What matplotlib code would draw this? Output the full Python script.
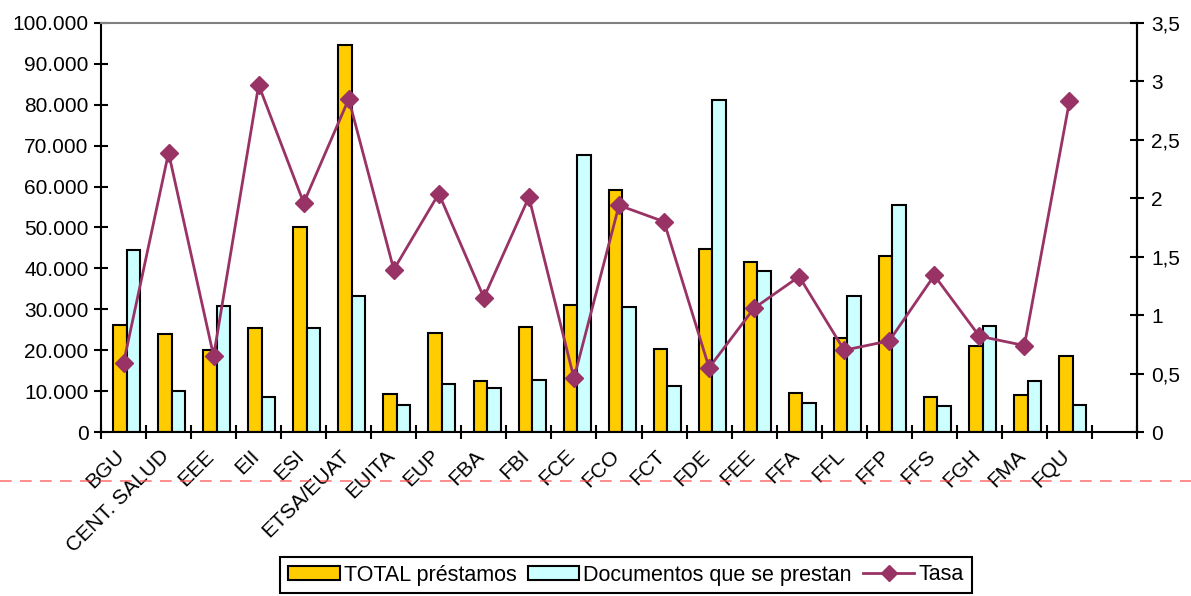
import matplotlib
matplotlib.use("Agg")
import matplotlib.pyplot as plt
import numpy as np
from matplotlib.lines import Line2D
from matplotlib.patches import Patch
from matplotlib.ticker import FuncFormatter

plt.rcParams["font.family"] = ["Liberation Sans", "DejaVu Sans"]

centros = ["BGU", "CENT. SALUD", "EEE", "EII", "ESI", "ETSA/EUAT", "EUITA", "EUP",
           "FBA", "FBI", "FCE", "FCO", "FCT", "FDE", "FEE", "FFA", "FFL", "FFP",
           "FFS", "FGH", "FMA", "FQU"]
total_prestamos = [26200, 24000, 20000, 25400, 50100, 94600, 9300, 24200, 12500,
                   25600, 31000, 59200, 20300, 44800, 41600, 9500, 23000, 43000,
                   8600, 21000, 9000, 18600]
documentos = [44500, 10000, 30800, 8500, 25400, 33200, 6600, 11700, 10800, 12700,
              67700, 30600, 11200, 81200, 39300, 7100, 33300, 55500, 6400, 25900,
              12500, 6600]
tasa = [0.59, 2.39, 0.65, 2.97, 1.96, 2.85, 1.39, 2.04, 1.15, 2.01, 0.46, 1.94,
        1.80, 0.55, 1.06, 1.33, 0.70, 0.78, 1.34, 0.82, 0.74, 2.83]

YELLOW = "#FFCC00"
CYAN = "#CCFFFF"
PLUM = "#993366"
FS = 15

fig = plt.figure(figsize=(11.91, 5.96), dpi=100)
ax = fig.add_axes([101 / 1191, 164 / 596, 1036 / 1191, 409 / 596])
x = np.arange(len(centros))
w = 0.3
ax.bar(x - w / 2 + 0.07, total_prestamos, w, color=YELLOW, edgecolor="black", lw=1.5, zorder=2)
ax.bar(x + w / 2 + 0.07, documentos, w, color=CYAN, edgecolor="black", lw=1.5, zorder=2)
ax.set_xlim(-0.5, len(centros) + 0.5)
ax.set_ylim(0, 100000)
ax.set_yticks(np.arange(0, 100001, 10000))
ax.yaxis.set_major_formatter(FuncFormatter(lambda v, p: f"{int(v):,}".replace(",", ".")))
ax.set_xticks(np.arange(-0.5, len(centros) + 0.6, 1))
ax.set_xticklabels([])
ax.tick_params(axis="both", direction="inout", length=10, width=1.5, labelsize=FS, pad=4)
for i, name in enumerate(centros):
    ax.text(i - 0.2, -3500, name, rotation=45, ha="right", va="top",
            rotation_mode="anchor", fontsize=FS)
for s in ("left", "bottom", "right"):
    ax.spines[s].set_linewidth(1.5)
ax.spines["top"].set_color("#808080")
ax.spines["top"].set_linewidth(1.5)

ax2 = ax.twinx()
ax2.plot(x, tasa, color=PLUM, lw=2, marker="D", ms=9, zorder=3)
ax2.set_ylim(0, 3.5)
ax2.set_yticks(np.arange(0, 3.51, 0.5))
ax2.yaxis.set_major_formatter(FuncFormatter(lambda v, p: f"{v:g}".replace(".", ",")))
ax2.tick_params(axis="y", direction="inout", length=10, width=1.5, labelsize=FS, pad=5)
ax2.spines["right"].set_linewidth(1.5)
ax2.spines["top"].set_visible(False)
ax2.spines["left"].set_visible(False)
ax2.spines["bottom"].set_visible(False)

handles = [Patch(facecolor=YELLOW, edgecolor="black", lw=1.5, label="TOTAL préstamos"),
           Patch(facecolor=CYAN, edgecolor="black", lw=1.5, label="Documentos que se prestan"),
           Line2D([], [], color=PLUM, lw=2, marker="D", ms=8, label="Tasa")]
leg = fig.legend(handles=handles, loc="center", bbox_to_anchor=(626 / 1191, 21 / 596), ncol=3,
                 fontsize=15.5, fancybox=False, edgecolor="black", framealpha=1,
                 handlelength=2.4, handleheight=0.6, handletextpad=0.2, columnspacing=0.5,
                 borderpad=0.35, borderaxespad=0)
leg.get_frame().set_linewidth(1.5)

fig.add_artist(Line2D([0, 1], [1 - 481 / 596] * 2, transform=fig.transFigure,
                      color="#ff4d4d", lw=1.2, ls=(0, (7, 5)), alpha=0.75))

fig.savefig("out.png", dpi=100)
